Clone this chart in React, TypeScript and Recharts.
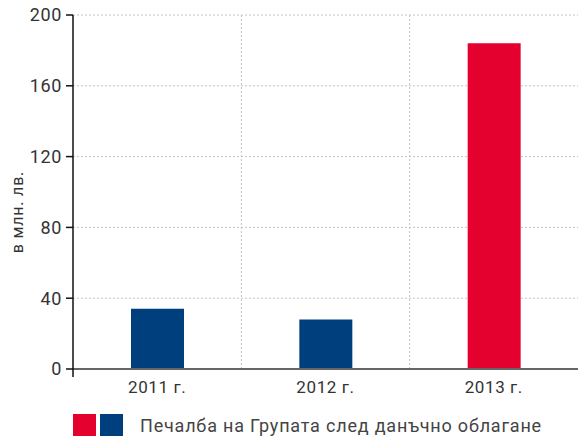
import React from 'react';
import { BarChart, Bar, XAxis, YAxis, CartesianGrid, Cell } from 'recharts';

const categories = ['2011 г.', '2012 г.', '2013 г.'];
const profit = [34, 28, 184];
const barColors = ['#003F7E', '#003F7E', '#E4002F'];
const yTicks = [0, 40, 80, 120, 160, 200];
const yLabel = 'в млн. лв.';
const legendLabel = 'Печалба на Групата след данъчно облагане';
const legendColors = ['#E4002F', '#003F7E'];

const data = categories.map((c, i) => ({ name: c, value: profit[i] }));

const FONT = 'Roboto, "Liberation Sans", sans-serif';

export default function App() {
  return (
    <div style={{ position: 'absolute', left: 0, top: 0, width: 578, height: 436, background: '#fff', fontFamily: FONT }} lang="bg">
      <BarChart width={578} height={436} data={data} margin={{ top: 15, right: 0, left: 0, bottom: 0 }}>
        <CartesianGrid
          stroke="#c4c4c4"
          strokeDasharray="2 2"
          horizontalValues={[40, 80, 120, 160, 200]}
          verticalCoordinatesGenerator={({ offset }: any) => [
            offset.left + offset.width / 3,
            offset.left + (2 * offset.width) / 3,
          ]}
        />
        <XAxis
          dataKey="name"
          height={67}
          tickLine={false}
          axisLine={{ stroke: '#666', strokeWidth: 2 }}
          tick={{ fill: '#333', fontSize: 17, fontFamily: FONT, letterSpacing: 0.6 }}
          tickMargin={6}
          interval={0}
        />
        <YAxis
          width={73}
          domain={[0, 200]}
          ticks={yTicks}
          interval={0}
          tickSize={7}
          tickMargin={4}
          axisLine={{ stroke: '#111', strokeWidth: 1.5 }}
          tickLine={{ stroke: '#111', strokeWidth: 1.5 }}
          tick={{ fill: '#333', fontSize: 18, fontFamily: FONT, letterSpacing: 0.6 }}
          label={{
            content: (props: any) => {
              const vb = props.viewBox || { x: 0, y: 15, width: 73, height: 354 };
              const ax = vb.x + vb.width;
              const bottom = vb.y + vb.height;
              return (
                <g>
                  <line x1={ax} x2={ax} y1={bottom} y2={bottom + 8} stroke="#111" strokeWidth={1.5} />
                  <text x={19} y={212} transform="rotate(-90 19 212)" textAnchor="middle" dominantBaseline="middle" fill="#333" fontSize={16} letterSpacing={0.8} fontFamily={FONT}>
                    {yLabel}
                  </text>
                </g>
              );
            },
          }}
        />
        <Bar dataKey="value" barSize={53} isAnimationActive={false}>
          {data.map((d, i) => (
            <Cell key={d.name} fill={barColors[i]} />
          ))}
        </Bar>
      </BarChart>
      <div style={{ position: 'absolute', left: 73, top: 414, display: 'flex', alignItems: 'center', height: 22 }}>
        {legendColors.map((c) => (
          <div key={c} style={{ width: 23, height: 22, background: c, marginRight: 4 }} />
        ))}
        <span style={{ marginLeft: 13, fontSize: 18, color: '#444', whiteSpace: 'nowrap', letterSpacing: 0.8 }}>{legendLabel}</span>
      </div>
    </div>
  );
}
